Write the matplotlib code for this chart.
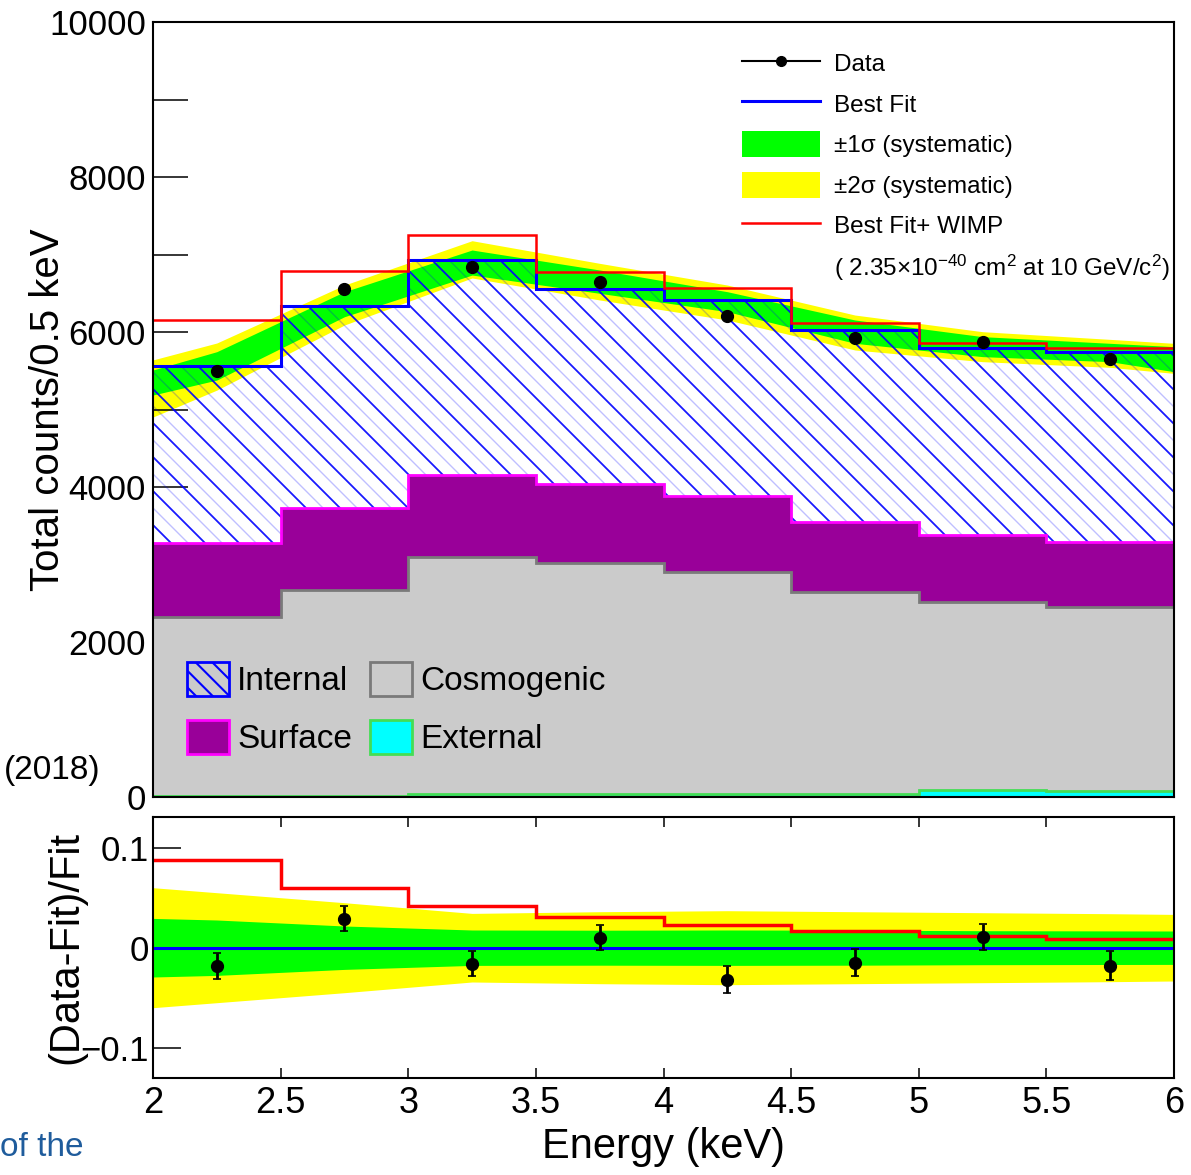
import numpy as np
import matplotlib
matplotlib.use("Agg")
import matplotlib.pyplot as plt
from matplotlib.collections import LineCollection
from matplotlib.lines import Line2D
from matplotlib.patches import Patch
from matplotlib.ticker import FixedLocator, FuncFormatter

plt.rcParams["font.family"] = ["Liberation Sans", "DejaVu Sans"]
plt.rcParams["mathtext.fontset"] = "custom"
plt.rcParams["mathtext.rm"] = "Liberation Sans"
plt.rcParams["mathtext.it"] = "Liberation Sans:italic"
plt.rcParams["hatch.linewidth"] = 1.5

# energy bins (keV)
edges = [2.0, 2.5, 3.0, 3.5, 4.0, 4.5, 5.0, 5.5, 6.0]
centers = [2.25, 2.75, 3.25, 3.75, 4.25, 4.75, 5.25, 5.75]

# fitted components, counts / 0.5 keV
external = [10, 15, 35, 35, 40, 45, 85, 80]
cosmogenic = [2308, 2656, 3058, 2989, 2867, 2604, 2435, 2376]
surface = [963, 1054, 1062, 1010, 981, 904, 861, 839]
internal = [2280, 2615, 2770, 2526, 2527, 2467, 2414, 2450]

data_counts = [5497, 6555, 6839, 6641, 6211, 5927, 5867, 5647]
wimp_counts = [6150, 6785, 7252, 6779, 6565, 6112, 5860, 5795]

# systematic bands (top panel)
band_x = [2.0, 2.25, 2.75, 3.25, 3.75, 4.25, 4.75, 5.25, 5.75, 6.0]
band1_hi = [5510, 5746, 6520, 7058, 6800, 6520, 6155, 5940, 5854, 5811]
band1_lo = [5187, 5380, 6197, 6735, 6499, 6262, 5854, 5682, 5617, 5488]
band2_hi = [5640, 5858, 6606, 7178, 6886, 6606, 6219, 6004, 5905, 5854]
band2_lo = [4903, 5250, 6090, 6697, 6413, 6155, 5768, 5617, 5544, 5466]

# ratio panel
ratio_data = [-0.018, 0.029, -0.016, 0.010, -0.032, -0.015, 0.011, -0.018]
ratio_err = [0.013, 0.0125, 0.0125, 0.0125, 0.0133, 0.0135, 0.013, 0.0145]
ratio_wimp = [0.088, 0.060, 0.042, 0.031, 0.023, 0.017, 0.012, 0.009]
ratio_1sig = [0.0293, 0.0277, 0.0217, 0.0177, 0.0175, 0.0177, 0.0175, 0.017, 0.0168, 0.0167]
ratio_2sig = [0.060, 0.055, 0.045, 0.0343, 0.036, 0.037, 0.036, 0.035, 0.034, 0.0333]

GREEN = "#00ff00"
YELLOW = "#ffff00"
PURPLE = "#990099"
MAGENTA = "#ff00ff"
GREY = "#cbcbcb"
GREY_EDGE = "#7a7a7a"
CYAN = "#00ffff"
EXT_EDGE = "#44dd55"


def hatch_lines(ax, clip_patch, w_px, h_px, spacing, offset, color, lw, alpha, z):
    segs = []
    for c in np.arange(offset, w_px + h_px + spacing, spacing):
        segs.append([(0.0, c / h_px), (1.0, (c - w_px) / h_px)])
    lc = LineCollection(segs, colors=color, linewidths=lw, alpha=alpha,
                        transform=ax.transAxes, zorder=z)
    ax.add_collection(lc)
    lc.set_clip_path(clip_patch)


fig = plt.figure(figsize=(11.91, 11.75), dpi=100)
left, width = 153 / 1191, 1021 / 1191
ax = fig.add_axes([left, 1 - 797 / 1175, width, 775 / 1175])
axr = fig.add_axes([left, 1 - 1078 / 1175, width, 261 / 1175])

ext_top = np.array(external)
cos_top = ext_top + np.array(cosmogenic)
surf_top = cos_top + np.array(surface)
best = surf_top + np.array(internal)

# --- top panel ---
ax.fill_between(band_x, band2_lo, band2_hi, color=YELLOW, lw=0, zorder=1)
ax.fill_between(band_x, band1_lo, band1_hi, color=GREEN, lw=0, zorder=1.1)

clip = ax.stairs(best, edges, baseline=0, fill=True, facecolor="none",
                 edgecolor="none", zorder=1.5)
hatch_lines(ax, clip, 1021, 775, 34, 0, "#0000ff", 1.3, 0.9, 2)
hatch_lines(ax, clip, 1021, 775, 34, 17, "#0000ff", 1.0, 0.25, 2)

ax.stairs(cos_top, edges, baseline=0, fill=True, color=GREY, lw=0, zorder=3)
ax.stairs(surf_top, edges, baseline=cos_top, fill=True, color=PURPLE, lw=0, zorder=3)
ax.stairs(ext_top, edges, baseline=0, fill=True, color=CYAN, lw=0, zorder=3)
ax.stairs(cos_top, edges, baseline=None, color=GREY_EDGE, lw=2, zorder=3.2)
ax.stairs(surf_top, edges, baseline=None, color=MAGENTA, lw=2, zorder=3.2)
ax.stairs(ext_top, edges, baseline=None, color=EXT_EDGE, lw=2, zorder=3.2)

ax.stairs(best, edges, baseline=None, color="#0000ff", lw=2.2, zorder=4)
ax.stairs(wimp_counts, edges, baseline=None, color="#ff0000", lw=1.8, zorder=4)
ax.plot(centers, data_counts, "o", color="black", markersize=8.5, zorder=5)

ax.set_xlim(2, 6)
ax.set_ylim(0, 10000)
ax.set_ylabel("Total counts/0.5 keV", fontsize=29, va="center")
ax.yaxis.set_label_coords((48 - 153) / 1021, 0.5)
ax.yaxis.set_major_locator(FixedLocator([0, 2000, 4000, 6000, 8000, 10000]))
ax.yaxis.set_minor_locator(FixedLocator([1000, 3000, 5000, 7000, 9000]))
ax.xaxis.set_major_locator(FixedLocator(edges))
ax.tick_params(axis="x", which="both", direction="in", length=13, width=1.1,
               labelbottom=False)
ax.tick_params(axis="y", which="both", direction="in", length=25, width=1.1,
               labelsize=25, pad=5)

leg1_handles = [
    Line2D([], [], color="black", marker="o", markersize=7, lw=1.5),
    Line2D([], [], color="#0000ff", lw=2.2),
    Patch(facecolor=GREEN, edgecolor="none"),
    Patch(facecolor=YELLOW, edgecolor="none"),
    Line2D([], [], color="#ff0000", lw=1.8),
    Line2D([], [], color="none"),
]
leg1_labels = [
    "Data",
    "Best Fit",
    "\u00b11\u03c3 (systematic)",
    "\u00b12\u03c3 (systematic)",
    "Best Fit+ WIMP",
    r"( 2.35$\times$10$^{-40}$ cm$^{2}$ at 10 GeV/c$^{2}$)",
]
leg1 = ax.legend(leg1_handles, leg1_labels, loc="upper left",
                 bbox_to_anchor=((742 - 153) / 1021, (797 - 50) / 775),
                 fontsize=17.5, frameon=False, handlelength=3.2, handleheight=1.25,
                 handletextpad=0.6, labelspacing=0.6, borderpad=0, borderaxespad=0)
ax.add_artist(leg1)

leg2_handles = [
    Patch(facecolor="none", edgecolor="#0000ff", hatch="\\\\", lw=2),
    Patch(facecolor=PURPLE, edgecolor=MAGENTA, lw=2),
    Patch(facecolor=GREY, edgecolor=GREY_EDGE, lw=2),
    Patch(facecolor=CYAN, edgecolor=EXT_EDGE, lw=2),
]
leg2_labels = ["Internal", "Surface", "Cosmogenic", "External"]
ax.legend(leg2_handles, leg2_labels, ncol=2, loc="upper left",
          bbox_to_anchor=((187 - 153) / 1021, (797 - 662) / 775),
          fontsize=24, frameon=False, handlelength=1.26, handleheight=1.2,
          handletextpad=0.24, labelspacing=0.68, columnspacing=0.55,
          borderpad=0, borderaxespad=0)

# --- ratio panel ---
axr.fill_between(band_x, -np.array(ratio_2sig), ratio_2sig, color=YELLOW, lw=0, zorder=1)
axr.fill_between(band_x, -np.array(ratio_1sig), ratio_1sig, color=GREEN, lw=0, zorder=1.1)
axr.axhline(0, color="#0000ff", lw=2.2, zorder=3)
axr.stairs(ratio_wimp, edges, baseline=None, color="#ff0000", lw=2.5, zorder=3)
axr.errorbar(centers, ratio_data, yerr=ratio_err, fmt="o", color="black",
             markersize=8.5, elinewidth=2, capsize=3, capthick=1.2, zorder=5)

axr.set_xlim(2, 6)
axr.set_ylim(-0.1303, 0.1307)
axr.xaxis.set_major_locator(FixedLocator(edges))
axr.xaxis.set_major_formatter(FuncFormatter(lambda v, p: f"{v:g}"))
axr.yaxis.set_major_locator(FixedLocator([-0.1, 0, 0.1]))
axr.yaxis.set_major_formatter(FuncFormatter(lambda v, p: f"{v:g}".replace("-", "\u2212")))
axr.tick_params(axis="x", direction="in", length=7, width=1.1, top=True,
                labelsize=26, pad=6)
axr.tick_params(axis="y", direction="in", length=20, width=1.1, labelsize=25, pad=3)
axr.set_xlabel("Energy (keV)", fontsize=30, va="center")
axr.xaxis.set_label_coords(0.5, -(1147 - 1078) / 261)
axr.set_ylabel("(Data-Fit)/Fit", fontsize=30, va="center")
axr.yaxis.set_label_coords((66 - 153) / 1021, 0.5)

for a in (ax, axr):
    for s in a.spines.values():
        s.set_linewidth(1.5)
        s.set_zorder(6)

# stray page text around the figure
fig.text(100 / 1191, 1 - 770 / 1175, "(2018)", fontsize=24, ha="right", va="center")
fig.text(0 / 1191, 1 - 1148 / 1175, "of the", fontsize=24, ha="left", va="center",
         color="#1f5c9c")

fig.savefig("out.png", dpi=100)
